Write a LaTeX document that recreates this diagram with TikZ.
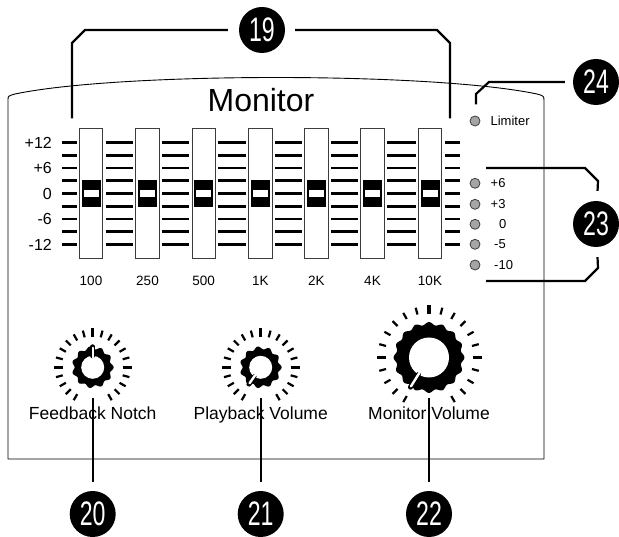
\documentclass[tikz,border=0pt]{standalone}
\usepackage{fontspec}
\setmainfont{Liberation Sans}
\usetikzlibrary{positioning,calc}
\definecolor{ledgray}{RGB}{165,165,165}
\definecolor{rimgray}{RGB}{60,60,60}

\begin{document}
\begin{tikzpicture}[x=1pt,y=-1pt,
  leader/.style={line width=2.2pt},
  eqline/.style={line width=2.6pt},
  fader/.style={draw=rimgray, line width=0.9pt, fill=white, minimum width=23.5pt, minimum height=130pt, inner sep=0pt},
  freq/.style={font=\fontsize{13.5}{14}\selectfont, inner sep=0pt},
  scalelbl/.style={font=\fontsize{16}{16}\selectfont, anchor=east, inner sep=0pt},
  led/.style={circle, draw=rimgray, fill=ledgray, line width=0.8pt, minimum size=10pt, inner sep=0pt},
  ledlbl/.style={font=\fontsize{13}{14}\selectfont, anchor=west, inner sep=0pt},
  knoblbl/.style={font=\fontsize{17.5}{18}\selectfont, anchor=base, inner sep=0pt},
  callout/.style={circle, fill=black, text=white, minimum size=46pt, inner sep=0pt, font=\fontsize{34}{34}\selectfont}]
\useasboundingbox (0,0) rectangle (619,537);
% panel outline with curved top
\draw[line width=0.9pt] (8,100) .. controls (8,96) .. (15,94) .. controls (120,72) and (432,72) .. (537,94)
  .. controls (544,96) .. (544,101) -- (544,459) -- (8,459) -- cycle;
\node[font=\fontsize{32}{32}\selectfont, anchor=base, inner sep=0pt] (title) at (261,111.7) {Monitor};

% graphic eq: scale lines and faders
\foreach \y in {142.5,155.25,...,244.5} \draw[eqline] (62,\y) -- (460,\y);
\foreach \x/\f in {91/100,147.5/250,203.7/500,260.3/1K,316.3/2K,372.5/4K,430/10K}{
  \fill[white] (\x-14.5,126) rectangle (\x+14.5,261);
  \node[fader] (f\f) at (\x,193.3) {};
  \fill[black] (\x-9.5,180) rectangle (\x+9.5,207);
  \draw[black, fill=white, line width=0.6pt] (\x-8,189.5) rectangle (\x+8,197.5);
  \node[freq, below=17pt of f\f] (l\f) {\f};
}
\foreach \y/\t [count=\i] in {142.5/+12,168/+6,193.5/0,219/-6,244.5/-12}
  \node[scalelbl] (scale\i) at (52,\y) {\t};

% level leds
\node[led] (ledlim) at (475,121) {};
\node[ledlbl, right=10pt of ledlim] (limlbl) {Limiter};
\foreach \y/\t/\lx [count=\i] in {183.3/+6/490.5,204.3/+3/490.5,224.3/0/499,244.3/-5/494,265/-10/494}{
  \node[led] (led\i) at (475,\y) {};
  \node[ledlbl] (ledlbl\i) at (\lx,\y) {\t};
}

% callouts
\node[callout] (c19) at (262,30) {\scalebox{.68}[1]{19}};
\node[callout] (c20) at (92.7,514) {\scalebox{.68}[1]{20}};
\node[callout] (c21) at (260.7,514) {\scalebox{.68}[1]{21}};
\node[callout] (c22) at (429,514) {\scalebox{.68}[1]{22}};
\node[callout] (c23) at (596,224) {\scalebox{.68}[1]{23}};
\node[callout] (c24) at (596,82) {\scalebox{.68}[1]{24}};

% brackets
\coordinate (b19l) at (72,118.3);
\coordinate (b19r) at (450,118.3);
\draw[leader, shorten <=11pt] (c19) -- (85,30) -- (72,43) -- (b19l);
\draw[leader, shorten <=10pt] (c19) -- (437,30) -- (450,43) -- (b19r);
\coordinate (b24) at (476,104.3);
\draw[leader, shorten <=8pt] (c24) -- (489,82) -- (476,94) -- (b24);
\coordinate (b23t) at (486,168);
\coordinate (b23b) at (486,281);
\draw[leader, shorten >=10pt] (b23t) -- (585,168) -- (598,181) -- (c23);
\draw[leader, shorten <=10pt] (c23) -- (598,268) -- (585,281) -- (b23b);

% knobs
\foreach \n/\kx/\ky/\R/\rh/\ti/\to/\pa/\teeth/\lbl in {
  20/92.7/367.3/19.5/11.5/31/38/90/11/Feedback Notch,
  21/260.7/367.3/19.5/11.5/31/38/235/11/Playback Volume,
  22/429/357.5/34/20/44.5/51.5/238/16/Monitor Volume}{
  \coordinate (knob\n) at (\kx,\ky);
  \begin{scope}[shift={(knob\n)}, y=1pt]
    \foreach \a in {-60,-45,...,240} \draw[line width=2.2pt] (\a:\ti) -- (\a:\to);
    \foreach \a in {0,90,180} \draw[line width=3.4pt] (\a:{\ti-1}) -- (\a:{\to+1});
    \fill plot[domain=0:360, samples=241] (\x:{\R+1.4*cos(\teeth*\x)}) -- cycle;
    \fill[white] (0,0) circle (\rh);
    \draw[line width=5pt, line cap=round] (\pa:\rh) -- (\pa:{\R+1});
    \draw[white, line width=2.4pt, line cap=round] (\pa:{\rh-2}) -- (\pa:\R);
  \end{scope}
  \node[knoblbl] (klbl\n) at (\kx,419.5) {\lbl};
  \coordinate (lead\n) at (\kx,398);
  \draw[leader, shorten >=9pt] (lead\n) -- (c\n);
}
\end{tikzpicture}
\end{document}
